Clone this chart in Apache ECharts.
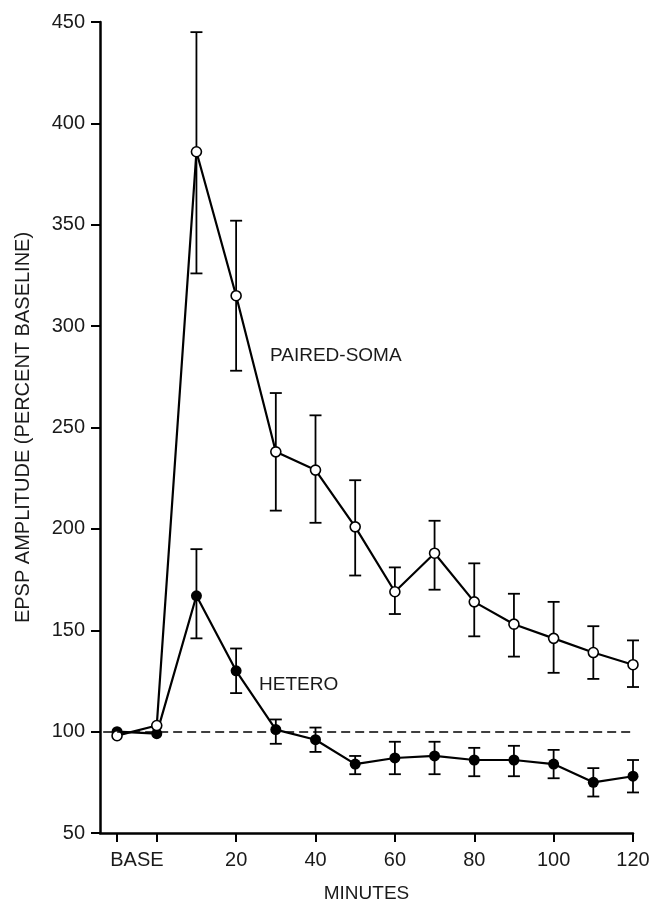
<!DOCTYPE html>
<html>
<head>
<meta charset="utf-8">
<script src="https://cdn.jsdelivr.net/npm/echarts@6/dist/echarts.min.js"></script>
<style>
  html, body { margin: 0; padding: 0; background: #fff; }
  #chart { width: 652px; height: 901px; }
</style>
</head>
<body>
<div id="chart"></div>
<script>
// minutes after pairing (-10 = BASE)
var minutes = [-10, 0, 10, 20, 30, 40, 50, 60, 70, 80, 90, 100, 110, 120];

// PAIRED-SOMA (open circles), mean and error bar ends
var pairedMean = [98, 103, 386, 315, 238, 229, 201, 169, 188, 164, 153, 146, 139, 133];
var pairedLow = [null, null, 326, 278, 209, 203, 177, 158, 170, 147, 137, 129, 126, 122];
var pairedHigh = [null, null, 445, 352, 267, 256, 224, 181, 204, 183, 168, 164, 152, 145];

// HETERO (filled circles)
var heteroMean = [100, 99, 167, 130, 101, 96, 84, 87, 88, 86, 86, 84, 75, 78];
var heteroLow = [null, null, 146, 119, 94, 90, 79, 79, 79, 78, 78, 77, 68, 70];
var heteroHigh = [null, null, 190, 141, 106, 102, 88, 95, 95, 92, 93, 91, 82, 86];

// axis ticks / labels
var xTicks = [-10, 0, 20, 40, 60, 80, 100, 120];
var xLabels = [-5, 20, 40, 60, 80, 100, 120];
var baseline = 100;

var chart = echarts.init(document.getElementById("chart"));
var font = "Liberation Sans";

function pairs(ys) {
  return minutes.map(function (m, i) { return [m, ys[i]]; });
}

function bars(lo, hi) {
  var out = [];
  for (var i = 0; i < minutes.length; i++) {
    if (lo[i] != null) out.push([minutes[i], lo[i], hi[i]]);
  }
  return out;
}

function errorBar(params, api) {
  var x = api.value(0);
  var lo = api.coord([x, api.value(1)]);
  var hi = api.coord([x, api.value(2)]);
  var w = 6;
  var st = { stroke: "#000", lineWidth: 1.8 };
  return {
    type: "group",
    children: [
      { type: "line", shape: { x1: lo[0], y1: lo[1], x2: hi[0], y2: hi[1] }, style: st },
      { type: "line", shape: { x1: lo[0] - w, y1: lo[1], x2: lo[0] + w, y2: lo[1] }, style: st },
      { type: "line", shape: { x1: hi[0] - w, y1: hi[1], x2: hi[0] + w, y2: hi[1] }, style: st },
    ],
  };
}

chart.setOption({
  animation: false,
  grid: { left: 100, right: 19, top: 22, bottom: 68, outerBoundsMode: "none" },
  xAxis: {
    type: "value",
    min: -14.3,
    max: 120,
    name: "MINUTES",
    nameLocation: "middle",
    nameGap: 51,
    nameTextStyle: { fontFamily: font, fontSize: 19, color: "#1a1a1a", verticalAlign: "top" },
    axisLine: { onZero: false, lineStyle: { color: "#000", width: 2.5 } },
    axisTick: { customValues: xTicks, length: 9, lineStyle: { color: "#000", width: 2 } },
    axisLabel: {
      customValues: xLabels,
      margin: 17,
      fontFamily: font,
      fontSize: 20,
      color: "#1a1a1a",
      formatter: function (v) { return v === -5 ? "BASE" : String(v); },
    },
    splitLine: { show: false },
  },
  yAxis: {
    type: "value",
    min: 50,
    max: 450,
    interval: 50,
    name: "EPSP AMPLITUDE (PERCENT BASELINE)",
    nameLocation: "middle",
    nameGap: 67,
    nameTextStyle: { fontFamily: font, fontSize: 20, color: "#1a1a1a" },
    axisLine: { show: true, onZero: false, lineStyle: { color: "#000", width: 2.5 } },
    axisTick: { show: true, length: 9, lineStyle: { color: "#000", width: 2 } },
    axisLabel: { margin: 15, fontFamily: font, fontSize: 20, color: "#1a1a1a" },
    splitLine: { show: false },
  },
  graphic: [
    {
      type: "text", left: 270, top: 346,
      style: { text: "PAIRED-SOMA", font: "19px " + font, fill: "#1a1a1a" },
    },
    {
      type: "text", left: 259, top: 675,
      style: { text: "HETERO", font: "19px " + font, fill: "#1a1a1a" },
    },
  ],
  series: [
    {
      type: "custom",
      renderItem: errorBar,
      data: bars(pairedLow, pairedHigh),
      z: 1,
      silent: true,
    },
    {
      type: "custom",
      renderItem: errorBar,
      data: bars(heteroLow, heteroHigh),
      z: 1,
      silent: true,
    },
    {
      name: "HETERO",
      type: "line",
      data: pairs(heteroMean),
      symbol: "circle",
      symbolSize: 11,
      itemStyle: { color: "#000" },
      lineStyle: { color: "#000", width: 2.2 },
      z: 3,
      markLine: {
        silent: true,
        symbol: "none",
        label: { show: false },
        lineStyle: { color: "#000", width: 1.6, type: [9, 5] },
        data: [[{ coord: [-13.5, baseline] }, { coord: [120, baseline] }]],
      },
    },
    {
      name: "PAIRED-SOMA",
      type: "line",
      data: pairs(pairedMean),
      symbol: "circle",
      symbolSize: 10,
      itemStyle: { color: "#fff", borderColor: "#000", borderWidth: 1.6 },
      lineStyle: { color: "#000", width: 2.2 },
      z: 4,
    },
  ],
});
</script>
</body>
</html>
